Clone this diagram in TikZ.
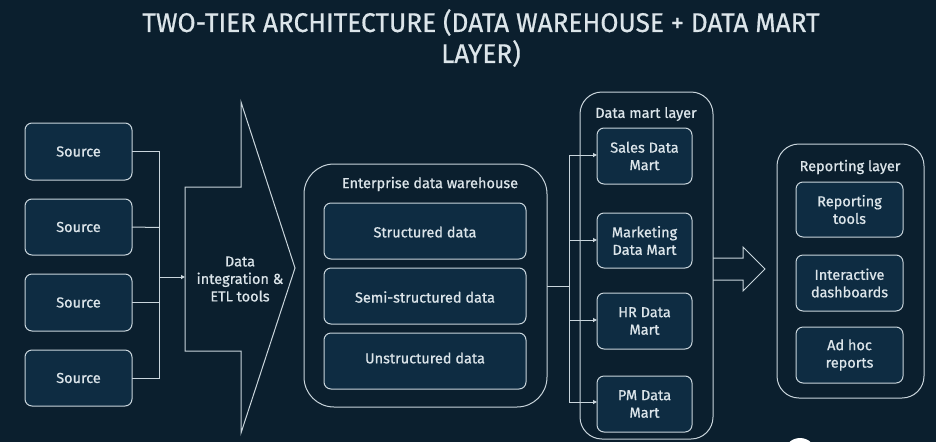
\documentclass[tikz,border=0pt]{standalone}
\usepackage{fontspec}
\setmainfont[FakeBold=0.8]{Fira Sans}
\newfontfamily\titlefont[FakeStretch=0.97,FakeBold=0.6]{Fira Sans}
\usetikzlibrary{arrows.meta}
\definecolor{bgc}{HTML}{0B1F2E}
\definecolor{boxc}{HTML}{0E2C42}
\definecolor{linec}{HTML}{C9D5DC}
\definecolor{txtc}{HTML}{DCE5EA}
\tikzset{
  x=1pt,y=-1pt,
  box/.style={draw=linec,line width=1pt,fill=boxc,rounded corners=7pt},
  outer/.style={draw=linec,line width=1pt,rounded corners=22pt},
  lbl/.style={text=txtc,font=\fontsize{14.5}{17.5}\selectfont,align=center},
  conn/.style={draw=linec,line width=1pt},
  arr/.style={conn,-{Triangle[length=4pt,width=4pt]}},
}
\begin{document}
\begin{tikzpicture}
\fill[bgc] (0,0) rectangle (936,442);
\useasboundingbox (0,0) rectangle (936,442);
\begin{scope}
\clip (0,0) rectangle (936,442);
\fill[white] (800,454) circle (16);
\end{scope}
% title
\node[text=txtc,font=\titlefont\fontsize{27}{31}\selectfont,align=center] (title) at (481,38)
  {TWO-TIER ARCHITECTURE (DATA WAREHOUSE + DATA MART\\LAYER)};
% sources
\foreach \i/\t/\b in {1/123/180,2/199/255,3/274/331,4/350/406}{
  \path[box] (25,\t) rectangle (132,\b);
  \node[lbl] (s\i) at (78.5,{(\t+\b)/2}) {Source};
  \coordinate (se\i) at (132,{(\t+\b)/2});
}
\coordinate (bus) at (159,277);
\draw[conn] (se1) -| (159,378) -- (se4);
\draw[conn] (se2) -- (159,227.5);
\draw[conn] (se3) -- (159,302.5);
% ETL arrow
\draw[conn,line join=miter] (185,187) -- (241,187) -- (241,102) -- (295,268) -- (241,433) -- (241,351) -- (185,351) -- cycle;
\coordinate (etlin) at (185,277);
\node[lbl] (etl) at (240,279) {Data\\integration \&\\ETL tools};
\draw[arr] (bus) -- (etlin);
% EDW
\draw[outer,rounded corners=30pt] (304,164) rectangle (547,407);
\node[lbl] (edwt) at (430,184) {Enterprise data warehouse};
\path[box] (324,203) rectangle (526,259);
\node[lbl] (sd) at (425,232) {Structured data};
\path[box] (324,268) rectangle (526,324);
\node[lbl] (ssd) at (425,297) {Semi-structured data};
\path[box] (324,333) rectangle (526,389);
\node[lbl] (ud) at (425,358) {Unstructured data};
\coordinate (edwout) at (547,286);
\coordinate (bus2) at (569,286);
\draw[conn] (edwout) -- (bus2);
% Data mart layer
\draw[outer] (580,92) rectangle (713,439);
\node[lbl] (dmt) at (646,114) {Data mart layer};
\foreach \i/\t/\b/\txt in {1/128/184/{Sales Data\\Mart},2/213/268/{Marketing\\Data Mart},3/293/349/{HR Data\\Mart},4/376/432/{PM Data\\Mart}}{
  \path[box] (597,\t) rectangle (692,\b);
  \node[lbl] (m\i) at (644.5,{(\t+\b)/2}) {\txt};
}
\draw[conn] (569,155) -- (569,402);
\draw[arr] (569,155) -- (597,155);
\draw[arr] (569,240) -- (597,240);
\draw[arr] (569,320) -- (597,320);
\draw[arr] (569,402) -- (597,402);
% hollow arrow
\draw[conn,line join=miter] (713,258) -- (743,258) -- (743,247) -- (765,269) -- (743,291) -- (743,280) -- (713,280);
% Reporting layer
\draw[outer] (777,144) rectangle (924,398);
\node[lbl] (rlt) at (850,167) {Reporting layer};
\path[box] (796,182) rectangle (903,237);
\node[lbl] (r1) at (849.5,209.5) {Reporting\\tools};
\path[box] (796,255) rectangle (903,311);
\node[lbl] (r2) at (849.5,283) {Interactive\\dashboards};
\path[box] (796,327) rectangle (903,383);
\node[lbl] (r3) at (849.5,355) {Ad hoc\\reports};
\end{tikzpicture}
\end{document}
